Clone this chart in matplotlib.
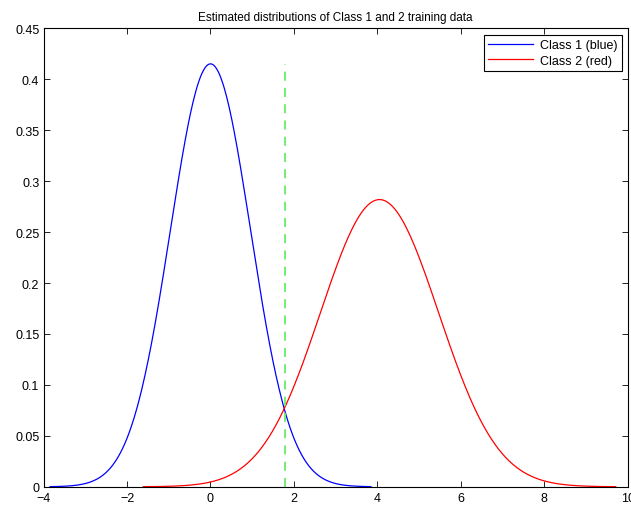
import numpy as np
import matplotlib
matplotlib.use("Agg")
import matplotlib.pyplot as plt

plt.rcParams['font.family'] = ['Liberation Sans', 'DejaVu Sans']

# estimated Gaussian parameters for each class (mean, std)
class_names = ["Class 1 (blue)", "Class 2 (red)"]
class_means = [0.0, 4.05]
class_stds = [0.961, 1.415]
class_colors = ["#0000ff", "#ff0000"]

# decision boundary position and its height
boundary_x = 1.78
boundary_top = 0.415


def gauss_pdf(x, mu, sd):
    return np.exp(-0.5 * ((x - mu) / sd) ** 2) / (sd * np.sqrt(2 * np.pi))


fig = plt.figure(figsize=(6.31, 5.06), dpi=100)
ax = fig.add_axes([0.069, 0.036, 0.926, 0.906])

for name, mu, sd, c in zip(class_names, class_means, class_stds, class_colors):
    x = np.linspace(mu - 4 * sd, mu + 4 * sd, 400)
    ax.plot(x, gauss_pdf(x, mu, sd), color=c, lw=0.9, label=name)

ax.plot([boundary_x, boundary_x], [0, boundary_top], color="#66ee66",
        lw=1.3, linestyle=(0, (5, 4)))

ax.set_xlim(-4, 10)
ax.set_ylim(0, 0.45)
ax.set_xticks(np.arange(-4, 11, 2))
ax.set_yticks(np.arange(0, 0.451, 0.05))
ax.set_yticklabels(["0", "0.05", "0.1", "0.15", "0.2", "0.25", "0.3",
                    "0.35", "0.4", "0.45"])
ax.tick_params(direction="in", top=True, right=True, length=4, width=0.6,
               labelsize=9, pad=3)
ax.tick_params(axis="x", pad=3.5)
for s in ax.spines.values():
    s.set_linewidth(0.8)

ax.set_title("Estimated distributions of Class 1 and 2 training data",
             fontsize=8.5, pad=6)
leg = ax.legend(loc="upper right", fontsize=9, fancybox=False,
                framealpha=1, edgecolor="black", handlelength=3.6,
                borderaxespad=0.5, borderpad=0.35, labelspacing=0.3,
                handletextpad=0.5)
leg.get_frame().set_linewidth(0.8)

fig.savefig("out.png", dpi=100)
